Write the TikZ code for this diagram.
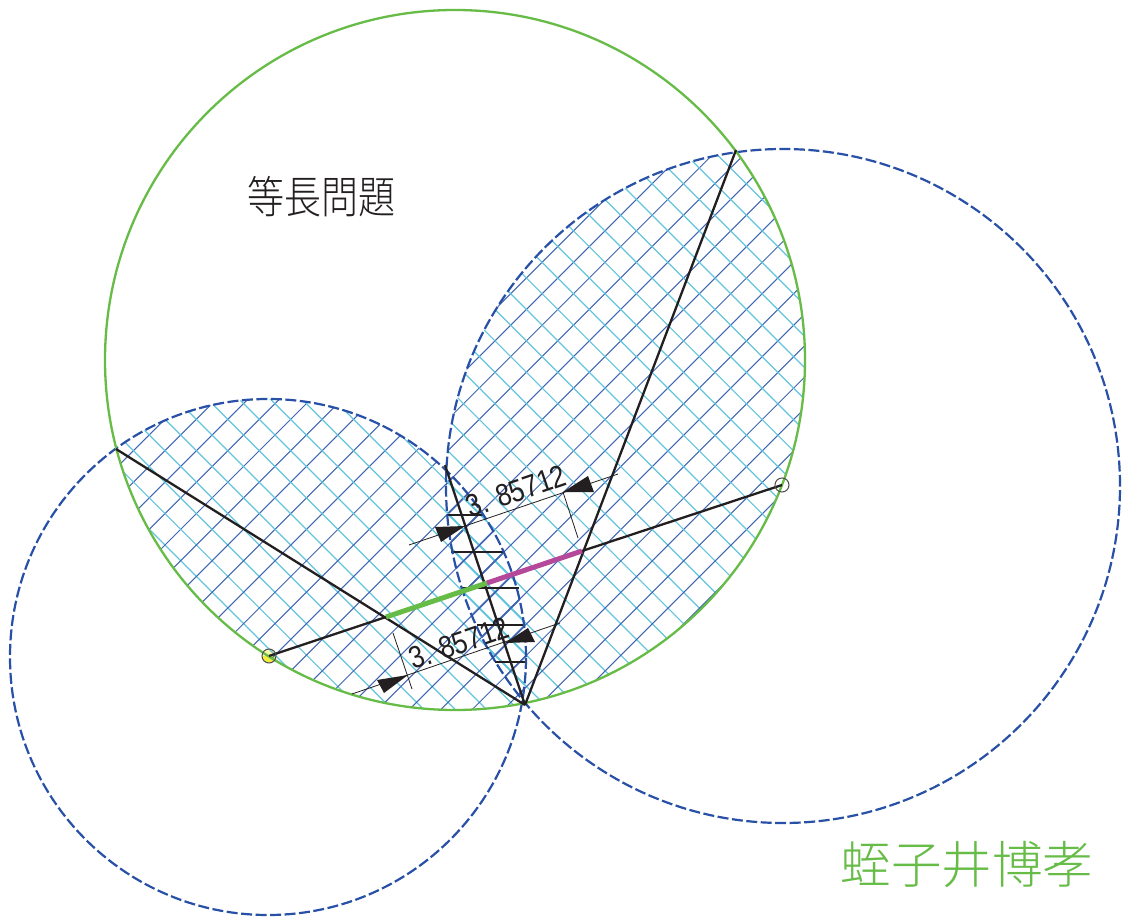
\documentclass[tikz,border=0pt]{standalone}
\usepackage{fontspec}
\usepackage{graphicx}
\setmainfont{Liberation Sans}
\newfontfamily\cjk{Noto Sans CJK JP Light}
\definecolor{cgreen}{HTML}{66BC46}
\definecolor{cdash}{HTML}{2750A6}
\definecolor{chatchd}{HTML}{3F66B2}
\definecolor{chatchl}{HTML}{63C5DD}
\definecolor{cblack}{HTML}{231F20}
\definecolor{cmag}{HTML}{B5489A}
\definecolor{cyel}{HTML}{F4EC3C}
\tikzset{
  main/.style={cblack,line width=2.3pt},
  dashcirc/.style={cdash,line width=2.2pt,dash pattern=on 11pt off 3.5pt},
  thin dim/.style={cblack,line width=0.8pt},
  rung/.style={cblack,line width=1.8pt},
  head/.style={fill=cblack,draw=none},
  dimtext/.style={inner sep=0pt,font=\fontsize{31}{31}\selectfont,text=cblack,rotate=18.8},
  hd/.style={chatchd,line width=1pt},
  hl/.style={chatchl,line width=1.2pt},
  pt/.style={circle,draw=cblack!80,line width=1pt,minimum size=14pt,inner sep=0pt,fill=none}
}
\begin{document}
\begin{tikzpicture}[x=1pt,y=-1pt]
\useasboundingbox (0,0) rectangle (1128,917);
\fill[white] (0,0) rectangle (1128,917);
% geometry
\coordinate (O) at (455,360);
\coordinate (L) at (268,657);
\coordinate (R) at (783,486);
\coordinate (A) at (116,449);
\coordinate (B) at (525,705);
\coordinate (C) at (736,150);
\coordinate (P) at (269,656);
\coordinate (Q) at (782,485);
\coordinate (G1) at (386,617);
\coordinate (G2) at (487,583);
\coordinate (M2) at (582,551);
\coordinate (T) at (445,465);
% yellow point fill, beneath the hatch
\fill[cyel!45] (P) circle[radius=6.5pt];
\begin{scope}
\clip (255,656) rectangle (283,665);
\fill[cyel] (P) circle[radius=6.5pt];
\end{scope}
% hatching
\begin{scope}
\clip (O) circle[radius=350pt];
\foreach \cc/\rr in {L/258,R/337}{
\begin{scope}
\clip (\cc) circle[radius=\rr pt];
\foreach \k in {0,...,50}{
  \pgfmathsetmacro{\s}{710+(\k-12)*31.45}
  \pgfmathsetmacro{\d}{-348.6+(\k-12)*31.42}
  \draw[hd] (\s,0) -- (\s-917,917);
  \draw[hl] (\d,0) -- (\d+917,917);
}
\end{scope}}
% heavier hatch in the lens
\begin{scope}
\clip (L) circle[radius=258pt];
\clip (R) circle[radius=337pt];
\foreach \k in {0,...,50}{
  \pgfmathsetmacro{\s}{710+(\k-12)*31.45}
  \pgfmathsetmacro{\d}{-348.6+(\k-12)*31.42}
  \draw[chatchd,line width=1.7pt] (\s,0) -- (\s-917,917);
  \draw[chatchl,line width=1.8pt] (\d,0) -- (\d+917,917);
}
\end{scope}
\end{scope}
% rungs
\foreach \a/\b/\y in {447/483/515,451/505/552,462/519/588,477/525/625,495/527/662}{
  \coordinate (ra) at (\a,\y); \coordinate (rb) at (\b,\y);
  \draw[rung] (ra) -- (rb);
}
% circles
\draw[dashcirc] (L) circle[radius=258pt];
\draw[dashcirc] (R) circle[radius=337pt];
\draw[cgreen,line width=2.3pt] (O) circle[radius=350pt];
% main lines
\draw[main] (A) -- (B);
\draw[main] (C) -- (B);
\draw[main] (T) -- (B);
\draw[main] (P) -- (G1);
\draw[main] (M2) -- (Q);
\draw[cgreen,line width=5pt] (G1) -- (G2);
\draw[cmag,line width=5pt] (G2) -- (M2);
% dimension upper
\coordinate (u1) at (409,545); \coordinate (u2) at (618,474);
\coordinate (ue1) at (563,492); \coordinate (ue2) at (578,538);
\draw[thin dim] (u1) -- (u2);
\draw[thin dim] (ue1) -- (ue2);
\fill[head] (465,526) -- (435,527) -- (441,542) -- cycle;
\fill[head] (563,492) -- (588,476) -- (594,492) -- cycle;
\node[dimtext] (ut) at (516,491) {\scalebox{0.84}[1]{3. 85712}};
% dimension lower
\coordinate (l1) at (352,694); \coordinate (l2) at (560,623);
\coordinate (le1) at (393,633); \coordinate (le2) at (412,689);
\draw[thin dim] (l1) -- (l2);
\draw[thin dim] (le1) -- (le2);
\fill[head] (408,675) -- (377,680) -- (384,693) -- cycle;
\fill[head] (505,643) -- (528,628) -- (535,642) -- cycle;
\node[dimtext] (lt) at (459,643) {\scalebox{0.84}[1]{3. 85712}};
% end points
\node[pt] (pn) at (P) {};
\node[pt] (qn) at (Q) {};
% titles
\node[inner sep=0pt,text=cblack] (title) at (321,197) {\scalebox{1}[1.2]{\cjk\fontsize{37}{37}\selectfont 等長問題}};
\node[inner sep=0pt,text=cgreen] (author) at (967,865) {\cjk\fontsize{50.5}{50.5}\selectfont 蛭子井博孝};
\end{tikzpicture}
\end{document}
